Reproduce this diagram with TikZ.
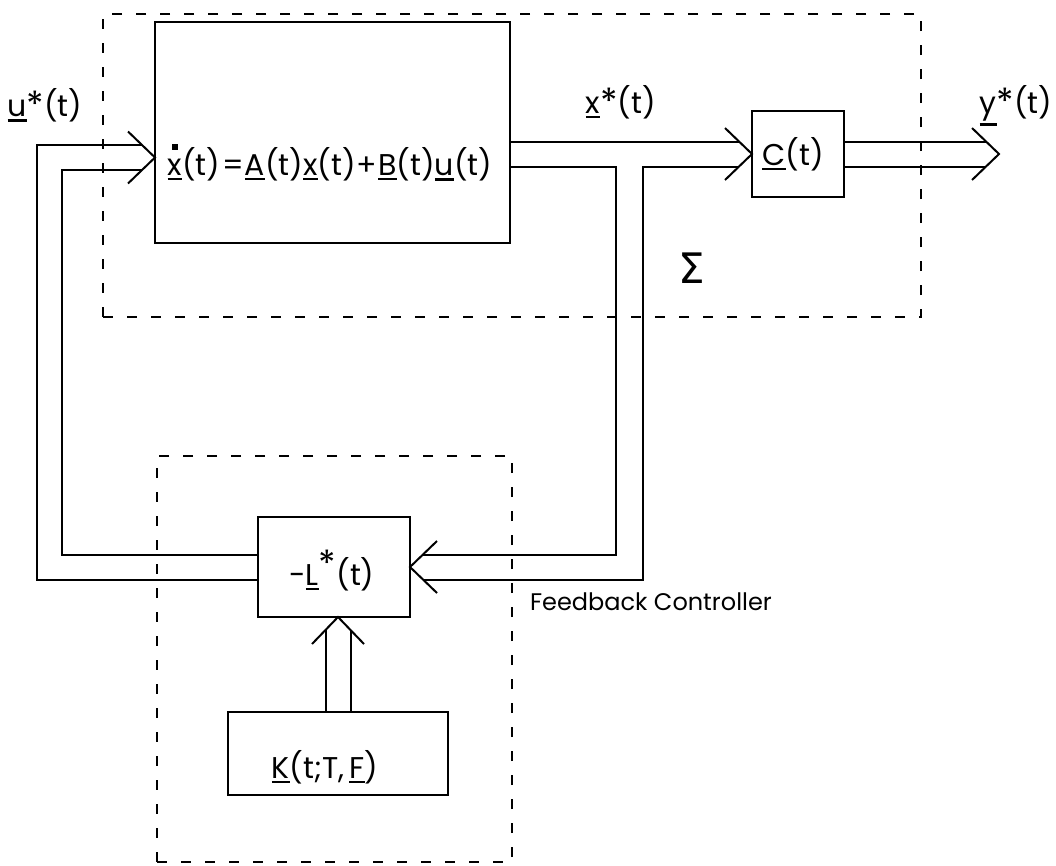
\documentclass[tikz,border=0pt]{standalone}
\usepackage{fontspec}
\setmainfont{Poppins}
\newfontfamily\grk{DejaVu Sans}
\usetikzlibrary{calc}
\newcommand\vb[1]{\vtop{\hbox{#1}\kern2.5pt\hrule height 2.8pt}}
\newcommand\dt[1]{\setbox0\hbox{#1}\rlap{\hbox to \wd0{\hss\vrule height 1.02em depth -0.83em width 0.19em\hss}}\box0}
\newcommand\chev[2]{\draw[wire, shift={(#1)}, rotate=#2] (-27,-26) -- (0,0) -- (-27,26);}
\begin{document}
\begin{tikzpicture}[x=1pt,y=-1pt,
  wire/.style={line width=2pt, line join=miter},
  blk/.style={draw, line width=2pt, inner sep=0pt, outer sep=0pt},
  dbox/.style={draw, dash pattern=on 10pt off 14pt, line width=2.2pt, inner sep=0pt, outer sep=0pt},
  lbl/.style={inner sep=0pt, anchor=base, font=\fontsize{30}{36}\selectfont}]
\useasboundingbox (0,0) rectangle (1056,865);
% dashed boundaries
\node[dbox, minimum width=818pt, minimum height=303pt] (sys) at (512,165.5) {};
\node[dbox, minimum width=355pt, minimum height=406pt] (fbc) at (334.5,659) {};
% blocks
\node[blk, minimum width=355pt, minimum height=221pt] (plant) at (332.5,132.5) {};
\node[blk, minimum width=92pt, minimum height=86pt] (C) at (798,154) {};
\node[blk, minimum width=152pt, minimum height=100pt] (L) at (334,567) {};
\node[blk, minimum width=220pt, minimum height=83pt] (K) at (338,753.5) {};
% coordinates
\coordinate (inTip) at ($(plant.west)+(0,25)$);
\coordinate (outTip) at (999,154);
\coordinate (kTip) at (K.north |- L.south);
\coordinate (c1) at (37,145);
\coordinate (c2) at (62,170);
\coordinate (b1) at (616,554.5);
\coordinate (b2) at (643,579.5);
% input (feedback) lines
\draw[wire] ($(L.west)+(0,13)$) -| (c1) -- ($(inTip)+(-13,-12.5)$);
\draw[wire] ($(L.west)+(0,-12.5)$) -| (c2) -- ($(inTip)+(-13,12.5)$);
\chev{inTip}{0}
% plant output
\draw[wire] ($(plant.east)+(0,9)$) -- ($(C.west)+(-13,-12.5)$);
\draw[wire] ($(plant.east)+(0,34)$) -| (b1) -- ($(L.east)+(13,-12.5)$);
\draw[wire] ($(C.west)+(-13,12.5)$) -| (b2) -- ($(L.east)+(13,12.5)$);
\chev{C.west}{0}
\chev{L.east}{180}
% output
\draw[wire] ($(C.east)+(0,-12.5)$) -- ($(outTip)+(-13,-12.5)$);
\draw[wire] ($(C.east)+(0,12.5)$) -- ($(outTip)+(-13,12.5)$);
\chev{outTip}{0}
% gain to L
\draw[wire] ($(K.north)+(-12.5,0)$) -- ($(kTip)+(-12.5,13)$);
\draw[wire] ($(K.north)+(12.5,0)$) -- ($(kTip)+(12.5,13)$);
\chev{kTip}{90}
% labels
\node[lbl] (eq) at (330,175) {\vb{\dt{x}}(t)\kern2pt=\kern1pt\vb{A}(t)\vb{x}(t)\kern1pt+\kern1pt\vb{B}(t)\vb{u}(t)};
\node[lbl] (ulbl) at (45,116) {\vb{u}\raisebox{-0.05em}{\fontsize{36}{36}\selectfont*}(t)};
\node[lbl] (xlbl) at (621,113) {\vb{x}\raisebox{-0.05em}{\fontsize{36}{36}\selectfont*}(t)};
\node[lbl] (ylbl) at (1016,113) {\vb{y}\raisebox{-0.05em}{\fontsize{36}{36}\selectfont*}(t)};
\node[lbl] (clbl) at (793,165) {\vb{C}(t)};
\node[lbl] (llbl) at (332,585) {-\vb{L}\raisebox{0.3em}{\fontsize{36}{36}\selectfont*}(t)};
\node[lbl] (klbl) at (325,778) {\vb{K}(t;T,\,\vb{F})};
\node[inner sep=0pt, font=\grk\fontsize{42}{46}\selectfont] (sig) at (692,268) {Σ};
\node[lbl, font=\fontsize{24}{30}\selectfont] (fblbl) at (651,610) {Feedback Controller};
\end{tikzpicture}
\end{document}
